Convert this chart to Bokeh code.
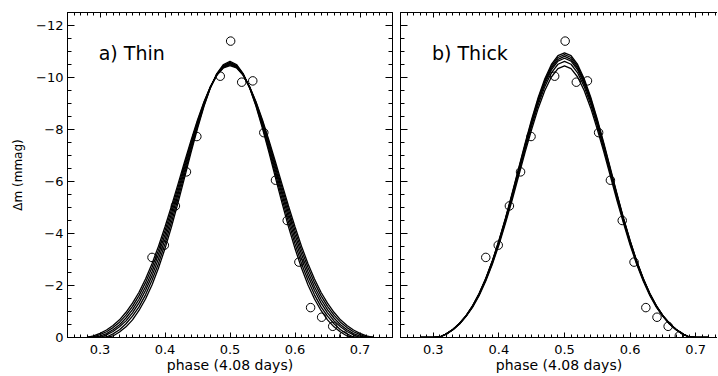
from bokeh.plotting import figure
from bokeh.models import Range1d, SingleIntervalTicker, LinearAxis, Label, CustomLabelingPolicy
from bokeh.layouts import row
from bokeh.embed import file_html
from bokeh.resources import INLINE

# ---------------- data ----------------
phase_grid = [0.28, 0.29, 0.30, 0.31, 0.32, 0.33, 0.34, 0.35, 0.36, 0.37, 0.38,
              0.39, 0.40, 0.41, 0.42, 0.43, 0.44, 0.45, 0.46, 0.47, 0.48, 0.49,
              0.50, 0.51, 0.52, 0.53, 0.54, 0.55, 0.56, 0.57, 0.58, 0.59, 0.60,
              0.61, 0.62, 0.63, 0.64, 0.65, 0.66, 0.67, 0.68, 0.69, 0.70, 0.71, 0.72]

thin_1 = [0, 0, 0, 0, -0.06, -0.21, -0.41, -0.68, -1.04, -1.48, -2.02, -2.67, -3.42, -4.26, -5.18, -6.14, -7.11, -8.04, -8.89, -9.61, -10.16, -10.50,
          -10.62, -10.50, -10.16, -9.61, -8.89, -8.04, -7.11, -6.14, -5.18, -4.26, -3.42, -2.67, -2.02, -1.48, -1.04, -0.68, -0.41, -0.21, -0.06, 0, 0, 0, 0]
thin_2 = [0, 0, 0, -0.02, -0.14, -0.30, -0.53, -0.82, -1.18, -1.64, -2.20, -2.85, -3.60, -4.44, -5.34, -6.28, -7.21, -8.11, -8.93, -9.62, -10.14, -10.47,
          -10.58, -10.47, -10.14, -9.62, -8.93, -8.11, -7.21, -6.28, -5.34, -4.44, -3.60, -2.85, -2.20, -1.64, -1.18, -0.82, -0.53, -0.30, -0.14, -0.02, 0, 0, 0]
thin_3 = [0, 0, 0, -0.10, -0.23, -0.41, -0.64, -0.95, -1.33, -1.81, -2.37, -3.03, -3.78, -4.61, -5.50, -6.41, -7.32, -8.19, -8.97, -9.63, -10.13, -10.44,
          -10.55, -10.44, -10.13, -9.63, -8.97, -8.19, -7.32, -6.41, -5.50, -4.61, -3.78, -3.03, -2.37, -1.81, -1.33, -0.95, -0.64, -0.41, -0.23, -0.10, 0, 0, 0]
thin_4 = [0, 0, -0.05, -0.15, -0.30, -0.49, -0.75, -1.07, -1.47, -1.95, -2.53, -3.20, -3.95, -4.77, -5.63, -6.53, -7.41, -8.25, -9.01, -9.64, -10.12, -10.42,
          -10.52, -10.42, -10.12, -9.64, -9.01, -8.25, -7.41, -6.53, -5.63, -4.77, -3.95, -3.20, -2.53, -1.95, -1.47, -1.07, -0.75, -0.49, -0.30, -0.15, -0.05, 0, 0]
thin_5 = [0, -0.02, -0.11, -0.22, -0.38, -0.59, -0.86, -1.20, -1.61, -2.11, -2.69, -3.36, -4.11, -4.92, -5.77, -6.64, -7.50, -8.31, -9.04, -9.65, -10.11, -10.39,
          -10.49, -10.39, -10.11, -9.65, -9.04, -8.31, -7.50, -6.64, -5.77, -4.92, -4.11, -3.36, -2.69, -2.11, -1.61, -1.20, -0.86, -0.59, -0.38, -0.22, -0.11, -0.02, 0]
thin_6 = [0, -0.06, -0.16, -0.29, -0.46, -0.68, -0.97, -1.32, -1.74, -2.25, -2.84, -3.51, -4.26, -5.06, -5.90, -6.75, -7.58, -8.37, -9.07, -9.65, -10.09, -10.37,
          -10.46, -10.37, -10.09, -9.65, -9.07, -8.37, -7.58, -6.75, -5.90, -5.06, -4.26, -3.51, -2.84, -2.25, -1.74, -1.32, -0.97, -0.68, -0.46, -0.29, -0.16, -0.06, 0]

thick_1 = [0, 0, 0, -0.02, -0.14, -0.32, -0.55, -0.84, -1.23, -1.70, -2.28, -2.95, -3.73, -4.59, -5.53, -6.50, -7.47, -8.40, -9.24, -9.95, -10.50, -10.84,
           -10.95, -10.84, -10.50, -9.95, -9.24, -8.40, -7.47, -6.50, -5.53, -4.59, -3.73, -2.95, -2.28, -1.70, -1.23, -0.84, -0.55, -0.32, -0.14, -0.02, 0, 0, 0]
thick_2 = [0, 0, 0, -0.02, -0.14, -0.31, -0.54, -0.84, -1.22, -1.69, -2.26, -2.93, -3.71, -4.57, -5.49, -6.46, -7.42, -8.34, -9.18, -9.89, -10.43, -10.77,
           -10.88, -10.77, -10.43, -9.89, -9.18, -8.34, -7.42, -6.46, -5.49, -4.57, -3.71, -2.93, -2.26, -1.69, -1.22, -0.84, -0.54, -0.31, -0.14, -0.02, 0, 0, 0]
thick_3 = [0, 0, 0, -0.02, -0.14, -0.31, -0.54, -0.83, -1.21, -1.68, -2.25, -2.92, -3.68, -4.54, -5.46, -6.41, -7.37, -8.29, -9.12, -9.83, -10.36, -10.70,
           -10.81, -10.70, -10.36, -9.83, -9.12, -8.29, -7.37, -6.41, -5.46, -4.54, -3.68, -2.92, -2.25, -1.68, -1.21, -0.83, -0.54, -0.31, -0.14, -0.02, 0, 0, 0]
thick_4 = [0, 0, 0, -0.02, -0.14, -0.31, -0.54, -0.83, -1.20, -1.67, -2.23, -2.90, -3.66, -4.51, -5.42, -6.37, -7.32, -8.24, -9.07, -9.76, -10.29, -10.63,
           -10.74, -10.63, -10.29, -9.76, -9.07, -8.24, -7.32, -6.37, -5.42, -4.51, -3.66, -2.90, -2.23, -1.67, -1.20, -0.83, -0.54, -0.31, -0.14, -0.02, 0, 0, 0]
thick_5 = [0, 0, 0, -0.02, -0.14, -0.31, -0.53, -0.82, -1.19, -1.65, -2.21, -2.86, -3.62, -4.46, -5.36, -6.30, -7.24, -8.14, -8.96, -9.65, -10.18, -10.51,
           -10.62, -10.51, -10.18, -9.65, -8.96, -8.14, -7.24, -6.30, -5.36, -4.46, -3.62, -2.86, -2.21, -1.65, -1.19, -0.82, -0.53, -0.31, -0.14, -0.02, 0, 0, 0]
thick_6 = [0, 0, 0, -0.02, -0.14, -0.30, -0.52, -0.81, -1.17, -1.62, -2.17, -2.82, -3.56, -4.39, -5.27, -6.20, -7.13, -8.01, -8.82, -9.50, -10.02, -10.34,
           -10.45, -10.34, -10.02, -9.50, -8.82, -8.01, -7.13, -6.20, -5.27, -4.39, -3.56, -2.82, -2.17, -1.62, -1.17, -0.81, -0.52, -0.30, -0.14, -0.02, 0, 0, 0]

thin_curves = [thin_1, thin_2, thin_3, thin_4, thin_5, thin_6]
thick_curves = [thick_1, thick_2, thick_3, thick_4, thick_5, thick_6]

obs_phase = [0.380, 0.399, 0.416, 0.433, 0.449, 0.485, 0.501, 0.518, 0.535,
             0.552, 0.570, 0.588, 0.606, 0.624, 0.641, 0.658, 0.675]
obs_dm = [-3.08, -3.55, -5.06, -6.37, -7.73, -10.05, -11.40, -9.82, -9.87,
          -7.88, -6.05, -4.50, -2.90, -1.15, -0.78, -0.43, -0.06]

y_tick_values = [-12, -10, -8, -6, -4, -2, 0]
y_tick_labels = ["\u221212", "\u221210", "\u22128", "\u22126", "\u22124", "\u22122", "0"]

panel_tags = ["a)  Thin", "b)  Thick"]
x_label = "phase (4.08 days)"
y_label = "\u0394m (mmag)"

FONT = "DejaVu Sans"

HIDE_LABELS = """
try { for (let i = 0; i < indices.size; i++) { indices.unset(i) } } catch (e) {}
return indices
"""


def style_axis(ax, is_x, labels):
    ax.axis_line_color = "black"
    ax.axis_line_width = 1
    ax.major_tick_out = 0
    ax.minor_tick_out = 0
    if is_x:
        ax.major_tick_in = 5
        ax.minor_tick_in = 3
    else:
        ax.major_tick_in = 7
        ax.minor_tick_in = 4
    ax.major_tick_line_color = "black"
    ax.minor_tick_line_color = "black"
    ax.major_label_text_font = FONT
    ax.major_label_text_color = "black"
    ax.axis_label_text_font = FONT
    ax.axis_label_text_font_style = "normal"
    ax.axis_label_text_color = "black"
    if labels:
        ax.major_label_text_font_size = "13px"
        ax.major_label_standoff = 7 if is_x else 4
    else:
        ax.major_label_text_font_size = "0px"
        ax.major_label_standoff = 0
        ax.major_label_policy = CustomLabelingPolicy(code=HIDE_LABELS)


def make_panel(curves, tag, width, x_end, b_left, b_right, ylabels, right_side):
    p = figure(width=width, height=376,
               x_range=Range1d(0.25, x_end), y_range=Range1d(0, -12.5),
               output_backend="svg", toolbar_location=None,
               min_border_left=b_left, min_border_right=b_right,
               min_border_top=12, min_border_bottom=39)
    p.xgrid.visible = False
    p.ygrid.visible = False
    p.background_fill_color = "white"
    p.border_fill_color = "white"
    if right_side:
        p.outline_line_color = "black"
        p.outline_line_width = 1
    else:
        p.outline_line_color = None

    xt = SingleIntervalTicker(interval=0.1, num_minor_ticks=10)
    yt = SingleIntervalTicker(interval=2, num_minor_ticks=4)

    p.xaxis.ticker = xt
    p.yaxis.ticker = yt
    style_axis(p.xaxis[0], True, True)
    style_axis(p.yaxis[0], False, ylabels)
    p.xaxis.axis_label = x_label
    p.xaxis.axis_label_text_font_size = "14px"
    p.xaxis.axis_label_standoff = 0
    if ylabels:
        p.yaxis.major_label_overrides = dict(zip(y_tick_values, y_tick_labels))
        p.yaxis.axis_label = y_label
        p.yaxis.axis_label_text_font_size = "12px"
        p.yaxis.axis_label_standoff = 8

    top = LinearAxis(ticker=xt)
    style_axis(top, True, False)
    p.add_layout(top, "above")
    if right_side:
        right = LinearAxis(ticker=yt)
        style_axis(right, False, False)
        p.add_layout(right, "right")

    for c in curves:
        p.line(phase_grid, c, line_color="black", line_width=1.3)
    p.scatter(obs_phase, obs_dm, marker="circle", size=8.5, fill_color=None,
              line_color="black", line_width=1)

    p.add_layout(Label(x=0.298, y=-10.95, text=tag, text_font=FONT,
                       text_font_size="19px", text_color="black",
                       text_baseline="alphabetic", text_align="left"))
    return p


# left panel: frame 67..392 px ; right panel: frame 400..717 px (cut at the page edge)
p1 = make_panel(thin_curves, panel_tags[0], 393, 0.75, 67, 1, True, True)
p2 = make_panel(thick_curves, panel_tags[1], 324, 0.25 + 317 / 656, 7, 0, False, False)

layout = row(p1, p2)
open("out.html", "w").write(file_html(layout, INLINE))
